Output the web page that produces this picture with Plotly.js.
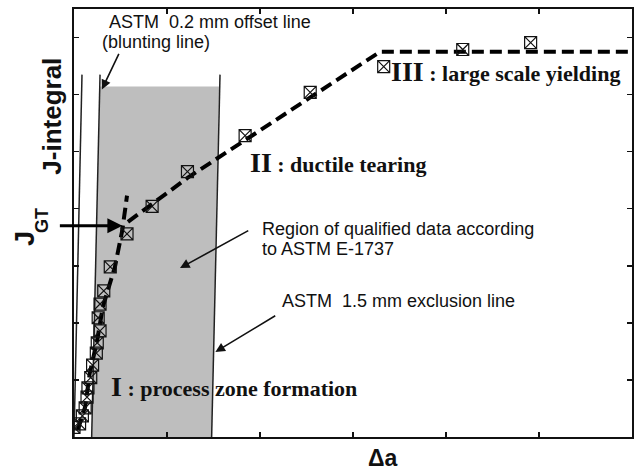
<!DOCTYPE html>
<html><head><meta charset="utf-8">
<script src="https://cdn.plot.ly/plotly-3.0.1.min.js"></script>
<style>html,body{margin:0;padding:0;background:#fff}#chart{width:636px;height:471px}</style>
</head><body><div id="chart"></div>
<script>
// measured crack extension (Δa) and J-integral values (arbitrary units)
const dA = [0.00,0.06,0.09,0.12,0.14,0.15,0.18,0.20,0.24,0.25,0.28,0.26,0.28,0.32,0.39,0.57,0.84,1.22,1.84,2.54,3.33,4.18,4.91];
const J  = [0.17,0.23,0.37,0.51,0.70,0.86,1.04,1.26,1.47,1.65,1.86,2.09,2.33,2.56,2.98,3.56,4.04,4.65,5.28,6.04,6.49,6.79,6.91];

// stage fit lines
const stage1X = [0.04,0.12,0.17,0.25,0.31,0.44,0.52,0.57];
const stage1Y = [0.12,0.53,1.12,1.70,2.28,2.98,3.63,4.23];
const stage23X = [0.58,1.22,2.54,3.29,6.00];
const stage23Y = [3.77,4.54,5.95,6.75,6.75];

// ASTM construction lines
const offsetLeftX = [0.00,0.086];
const blunt02X   = [0.19,0.28];
const excl15X    = [1.48,1.57];
const lineY      = [0.00,6.35];

// qualified data region
const regionX = [0.19,1.48,1.56,0.28,0.19];
const regionY = [0.00,0.00,6.14,6.14,0.00];

const sans = 'Liberation Sans, Arial, sans-serif';
const serif = 'Liberation Serif, Times New Roman, serif';

const traces = [
  {x: regionX, y: regionY, mode:'lines', fill:'toself', fillcolor:'rgb(190,190,190)', line:{width:0}, hoverinfo:'skip'},
  {x: offsetLeftX, y: lineY, mode:'lines', line:{color:'#222', width:1.5}},
  {x: blunt02X, y: lineY, mode:'lines', line:{color:'#222', width:1.5}},
  {x: excl15X, y: lineY, mode:'lines', line:{color:'#222', width:1.5}},
  {x: stage1X, y: stage1Y, mode:'lines', line:{color:'#000', width:4, dash:'12px,6px'}},
  {x: stage23X, y: stage23Y, mode:'lines', line:{color:'#000', width:4, dash:'12px,6px'}},
  {x: dA, y: J, mode:'markers', marker:{symbol:'square-x-open', size:12, color:'#111', line:{width:1.2, color:'#111'}}}
];

const f18 = {family:sans, size:18, color:'#111'};
const fser = {family:serif, size:22, color:'#111', weight:'bold'};

const ann = [
  {x:0.355, y:7.28, xanchor:'left', yanchor:'middle', text:'ASTM\u00a0 0.2 mm offset line', showarrow:false, font:f18},
  {x:0.28, y:6.93, xanchor:'left', yanchor:'middle', text:'(blunting line)', showarrow:false, font:f18},
  {x:0.30, y:6.09, ax:0.49, ay:6.74, axref:'x', ayref:'y', text:'', showarrow:true, arrowhead:2, arrowsize:1.2, arrowwidth:1.6, arrowcolor:'#111'},
  {x:1.87, y:4.81, xanchor:'left', yanchor:'middle', text:'<span style="font-size:28px">II</span> : ductile tearing', showarrow:false, font:fser},
  {x:3.39, y:6.40, xanchor:'left', yanchor:'middle', text:'<span style="font-size:28px">III</span> : large scale yielding', showarrow:false, font:fser},
  {x:0.38, y:0.89, xanchor:'left', yanchor:'middle', text:'<span style="font-size:28px">I</span> : process zone formation', showarrow:false, font:fser},
  {x:2.0, y:3.65, xanchor:'left', yanchor:'middle', text:'Region of qualified data according', showarrow:false, font:f18},
  {x:2.0, y:3.30, xanchor:'left', yanchor:'middle', text:'to ASTM E-1737', showarrow:false, font:f18},
  {x:1.14, y:2.96, ax:1.89, ay:3.63, axref:'x', ayref:'y', text:'', showarrow:true, arrowhead:2, arrowsize:1.2, arrowwidth:1.6, arrowcolor:'#111'},
  {x:2.215, y:2.39, xanchor:'left', yanchor:'middle', text:'ASTM\u00a0 1.5 mm exclusion line', showarrow:false, font:f18},
  {x:1.52, y:1.49, ax:2.18, ay:2.14, axref:'x', ayref:'y', text:'', showarrow:true, arrowhead:2, arrowsize:1.2, arrowwidth:1.6, arrowcolor:'#111'},
  {x:0.52, y:3.70, ax:-64, ay:0, text:'', showarrow:true, arrowhead:2, arrowsize:1, arrowwidth:3, arrowcolor:'#000'},
  {xref:'paper', yref:'paper', x:-0.040, y:0.750, xanchor:'center', yanchor:'middle', textangle:-90, text:'J-integral', showarrow:false, font:{family:sans, size:26, color:'#111', weight:'bold'}},
  {xref:'paper', yref:'paper', x:-0.0878, y:0.4626, xanchor:'center', yanchor:'middle', textangle:-90, text:'J', showarrow:false, font:{family:sans, size:27, color:'#111', weight:'bold'}},
  {xref:'paper', yref:'paper', x:-0.0573, y:0.5047, xanchor:'center', yanchor:'middle', textangle:-90, text:'GT', showarrow:false, font:{family:sans, size:18, color:'#111', weight:'bold'}},
  {xref:'paper', yref:'paper', x:0.554, y:-0.049, xanchor:'center', yanchor:'middle', text:'Δa', showarrow:false, font:{family:sans, size:23, color:'#111', weight:'bold'}}
];

const axisCommon = {showgrid:false, zeroline:false, showline:true, linecolor:'#111', linewidth:2, mirror:'ticks', ticks:'inside', ticklen:5, tickwidth:1.5, tickcolor:'#111', showticklabels:false, dtick:1, tick0:0, fixedrange:true};

const layout = {
  width:636, height:471,
  margin:{l:74, r:4, t:9, b:34},
  paper_bgcolor:'#fff', plot_bgcolor:'#fff',
  showlegend:false,
  xaxis: Object.assign({range:[0,6]}, axisCommon),
  yaxis: Object.assign({range:[0,7.5]}, axisCommon),
  annotations: ann
};

Plotly.newPlot('chart', traces, layout, {staticPlot:true});
</script></body></html>
